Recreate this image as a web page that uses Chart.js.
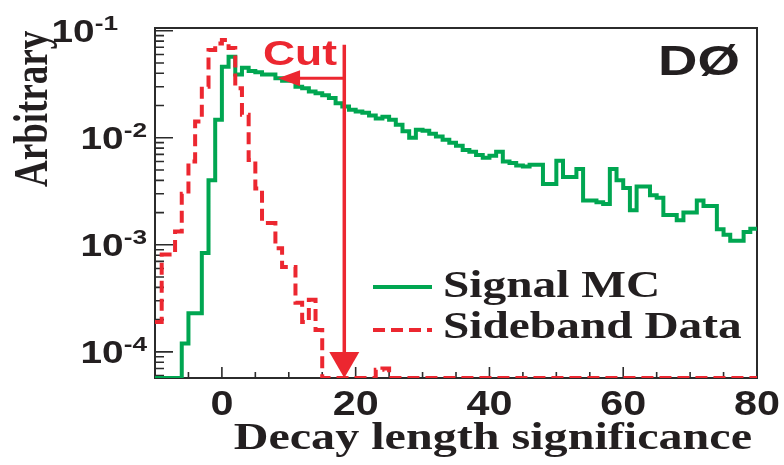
<!DOCTYPE html>
<html>
<head>
<meta charset="utf-8">
<script src="https://cdn.jsdelivr.net/npm/chart.js@4/dist/chart.umd.min.js"></script>
<style>
  html, body { margin: 0; padding: 0; background: #ffffff; }
  canvas { display: block; }
</style>
</head>
<body>
<canvas id="chart" width="784" height="465"></canvas>
<script>
// Histogram binning: unit-wide bins from -10 up to 80
const BIN_START = -10;
const BIN_WIDTH = 1;

// Bin contents (arbitrary normalisation), one entry per bin, empty bins are 0
const signalMC = [
  0, 0, 0, 0, 1.2e-4, 2.3e-4, 2.3e-4, 8.4e-4, 4.0e-3, 1.47e-2,
  4.6e-2, 5.7e-2, 3.9e-2, 4.5e-2, 4.2e-2, 4.1e-2, 3.9e-2, 3.9e-2, 3.6e-2, 3.4e-2,
  3.4e-2, 3.0e-2, 2.9e-2, 2.7e-2, 2.6e-2, 2.5e-2, 2.35e-2, 2.1e-2, 1.96e-2, 1.83e-2,
  1.76e-2, 1.71e-2, 1.61e-2, 1.51e-2, 1.57e-2, 1.47e-2, 1.32e-2, 1.15e-2, 1.0e-2, 1.19e-2,
  1.16e-2, 1.09e-2, 1.03e-2, 9.6e-3, 9.0e-3, 8.4e-3, 7.7e-3, 7.4e-3, 6.9e-3, 6.5e-3,
  6.8e-3, 7.4e-3, 6.0e-3, 5.8e-3, 5.5e-3, 5.4e-3, 5.6e-3, 5.6e-3, 3.7e-3, 3.7e-3,
  6.1e-3, 4.3e-3, 4.3e-3, 5.1e-3, 2.6e-3, 2.6e-3, 2.5e-3, 2.4e-3, 5.1e-3, 4.0e-3,
  3.4e-3, 2.1e-3, 3.5e-3, 3.5e-3, 2.9e-3, 2.75e-3, 1.9e-3, 1.9e-3, 1.7e-3, 2.0e-3,
  2.0e-3, 2.6e-3, 2.3e-3, 2.3e-3, 1.4e-3, 1.24e-3, 1.09e-3, 1.09e-3, 1.32e-3, 1.41e-3
];
const sidebandData = [
  1.9e-4, 8.1e-4, 8.1e-4, 1.33e-3, 3.0e-3, 6.0e-3, 1.42e-2, 3.0e-2, 6.6e-2, 7.6e-2,
  8.2e-2, 6.9e-2, 2.9e-2, 1.64e-2, 6.2e-3, 3.35e-3, 1.6e-3, 1.6e-3, 9.3e-4, 6.2e-4,
  6.2e-4, 2.87e-4, 1.9e-4, 3.06e-4, 1.6e-4, 0, 0, 0, 0, 0,
  0, 0, 0, 6.8e-5, 7.0e-5, 0, 0, 0, 0, 0,
  0, 0, 0, 0, 0, 0, 0, 0, 0, 0,
  0, 0, 0, 0, 0, 0, 0, 0, 0, 0,
  0, 0, 0, 0, 0, 0, 0, 0, 0, 0,
  0, 0, 0, 0, 0, 0, 0, 0, 0, 0,
  0, 0, 0, 0, 0, 0, 0, 0, 0, 0
];

const seriesLabels = ['Signal MC', 'Sideband Data'];
const xTickLabels = [0, 20, 40, 60, 80];
const yDecadeExponents = [-4, -3, -2, -1];
const xTitleText = 'Decay length significance';
const yTitleText = 'Arbitrary';

// Selection cut on the decay length significance, and the arrow marking it
const cutValue = 18.3;
const cutArrowTip = 8.4;      // x where the left-pointing arrow ends
const cutLineTop = 0.074;     // y where the vertical cut line starts
const cutArrowLevel = 0.036;  // y of the left-pointing arrow

const X_MIN = -10, X_MAX = 80;
const Y_MIN = 5.7e-5, Y_MAX = 0.106;

const INK = '#231f20';
const GREEN = '#00a651';
const RED = '#ec2730';

// Turn bin contents into step points (left edges plus the closing right edge).
// Empty bins are drawn along the lower frame edge.
function histogramPoints(contents) {
  const pts = contents.map((v, i) => ({ x: BIN_START + i * BIN_WIDTH, y: v > 0 ? v : Y_MIN }));
  pts.push({ x: BIN_START + contents.length * BIN_WIDTH, y: pts[pts.length - 1].y });
  return pts;
}

function stretchedText(ctx, text, x, y, font, align, sx, color) {
  ctx.save();
  ctx.font = font;
  ctx.fillStyle = color;
  ctx.textAlign = align;
  ctx.textBaseline = 'alphabetic';
  ctx.translate(x, y);
  ctx.scale(sx, 1);
  ctx.fillText(text, 0, 0);
  ctx.restore();
}

// Frame with inward ticks, drawn underneath the histograms
const framePlugin = {
  id: 'frame',
  beforeDatasetsDraw(chart) {
    const { ctx, chartArea: a, scales: { x, y } } = chart;
    ctx.save();
    ctx.strokeStyle = '#2b2b2b';
    ctx.lineWidth = 2;
    ctx.strokeRect(a.left, a.top, a.right - a.left, a.bottom - a.top);

    ctx.lineWidth = 1.6;
    ctx.beginPath();
    for (let v = X_MIN; v <= X_MAX; v += 5) {
      const px = x.getPixelForValue(v);
      const len = (v % 20 === 0) ? 11 : 6;
      ctx.moveTo(px, a.bottom);
      ctx.lineTo(px, a.bottom - len);
    }
    for (let d = -5; d <= -1; d++) {
      for (let m = 1; m <= 9; m++) {
        const v = m * Math.pow(10, d);
        if (v < Y_MIN || v > Y_MAX) continue;
        const py = y.getPixelForValue(v);
        const len = m === 1 ? 18 : 9;
        ctx.moveTo(a.left, py);
        ctx.lineTo(a.left + len, py);
      }
    }
    ctx.stroke();
    ctx.restore();
  },
  afterDatasetsDraw(chart) {
    const { ctx, chartArea: a, scales: { x, y } } = chart;
    ctx.save();

    // Cut line with downward arrow
    const cx = x.getPixelForValue(cutValue);
    const top = y.getPixelForValue(cutLineTop);
    ctx.strokeStyle = RED;
    ctx.fillStyle = RED;
    ctx.lineWidth = 3.5;
    ctx.beginPath();
    ctx.moveTo(cx, top);
    ctx.lineTo(cx, a.bottom - 24);
    ctx.stroke();
    ctx.beginPath();
    ctx.moveTo(cx - 15, a.bottom - 26);
    ctx.lineTo(cx + 15, a.bottom - 26);
    ctx.lineTo(cx, a.bottom);
    ctx.closePath();
    ctx.fill();

    // Left-pointing arrow from the cut line
    const ay = y.getPixelForValue(cutArrowLevel);
    const tip = x.getPixelForValue(cutArrowTip);
    ctx.lineWidth = 3;
    ctx.beginPath();
    ctx.moveTo(cx, ay);
    ctx.lineTo(tip + 18, ay);
    ctx.stroke();
    ctx.beginPath();
    ctx.moveTo(tip, ay);
    ctx.lineTo(tip + 22, ay - 8);
    ctx.lineTo(tip + 22, ay + 8);
    ctx.closePath();
    ctx.fill();
    ctx.restore();

    stretchedText(ctx, 'Cut', 263, 65, 'bold 35px "Liberation Sans", Arial, sans-serif', 'left', 1.27, RED);
    stretchedText(ctx, 'DØ', 658, 75, 'bold 42px "Liberation Sans", Arial, sans-serif', 'left', 1.3, INK);

    // Y tick labels: 10 with exponent
    yDecadeExponents.forEach((e, i) => {
      const py = y.getPixelForValue(Math.pow(10, e));
      const isTop = i === yDecadeExponents.length - 1;
      const right = a.left - 8 - (isTop ? 29 : 0);
      const baseFont = 'bold 31px "Liberation Sans", Arial, sans-serif';
      const supFont = 'bold 21px "Liberation Sans", Arial, sans-serif';
      const sx = 1.25;
      ctx.save();
      ctx.font = supFont;
      const supW = ctx.measureText('-' + Math.abs(e)).width * sx;
      ctx.font = baseFont;
      const baseW = ctx.measureText('10').width * sx;
      ctx.restore();
      stretchedText(ctx, '10', right - supW - baseW, py + 11, baseFont, 'left', sx, INK);
      stretchedText(ctx, '-' + Math.abs(e), right - supW, py - 1, supFont, 'left', sx, INK);
    });

    // X tick labels
    xTickLabels.forEach(v => {
      stretchedText(ctx, String(v), x.getPixelForValue(v), 415,
        'bold 35px "Liberation Sans", Arial, sans-serif', 'center', 1.18, INK);
    });

    // Axis titles
    stretchedText(ctx, xTitleText, 752, 449, 'bold 37px "Liberation Serif", "Times New Roman", serif', 'right', 1.3, INK);
    ctx.save();
    ctx.font = 'bold 37px "Liberation Serif", "Times New Roman", serif';
    ctx.fillStyle = INK;
    ctx.textAlign = 'left';
    ctx.textBaseline = 'alphabetic';
    ctx.translate(47, 187);
    ctx.scale(1.3, 1);
    ctx.rotate(-Math.PI / 2);
    ctx.fillText(yTitleText, 0, 0);
    ctx.restore();

    // Legend
    const legendRows = [
      { y: 287, base: 297, ds: chart.data.datasets[0] },
      { y: 330, base: 338, ds: chart.data.datasets[1] }
    ];
    legendRows.forEach(r => {
      ctx.save();
      ctx.strokeStyle = r.ds.borderColor;
      ctx.lineWidth = 4;
      ctx.setLineDash(r.ds.borderDash || []);
      ctx.beginPath();
      ctx.moveTo(373, r.y);
      ctx.lineTo(432, r.y);
      ctx.stroke();
      ctx.restore();
      stretchedText(ctx, r.ds.label, 443, r.base, 'bold 37px "Liberation Serif", "Times New Roman", serif', 'left', 1.28, INK);
    });
  }
};

new Chart(document.getElementById('chart'), {
  type: 'line',
  data: {
    datasets: [
      {
        label: seriesLabels[0],
        data: histogramPoints(signalMC),
        borderColor: GREEN,
        borderWidth: 4,
        stepped: 'before',
        pointRadius: 0,
        fill: false,
        borderJoinStyle: 'miter',
        order: 2
      },
      {
        label: seriesLabels[1],
        data: histogramPoints(sidebandData),
        borderColor: RED,
        borderWidth: 4,
        borderDash: [12, 6],
        stepped: 'before',
        pointRadius: 0,
        fill: false,
        borderJoinStyle: 'miter',
        order: 1
      }
    ]
  },
  options: {
    responsive: false,
    animation: false,
    devicePixelRatio: 1,
    layout: { padding: { left: 155, top: 28, right: 27, bottom: 87 } },
    plugins: { legend: { display: false }, tooltip: { enabled: false } },
    scales: {
      x: { type: 'linear', min: X_MIN, max: X_MAX, display: false },
      y: { type: 'logarithmic', min: Y_MIN, max: Y_MAX, display: false }
    }
  },
  plugins: [framePlugin]
});
</script>
</body>
</html>
